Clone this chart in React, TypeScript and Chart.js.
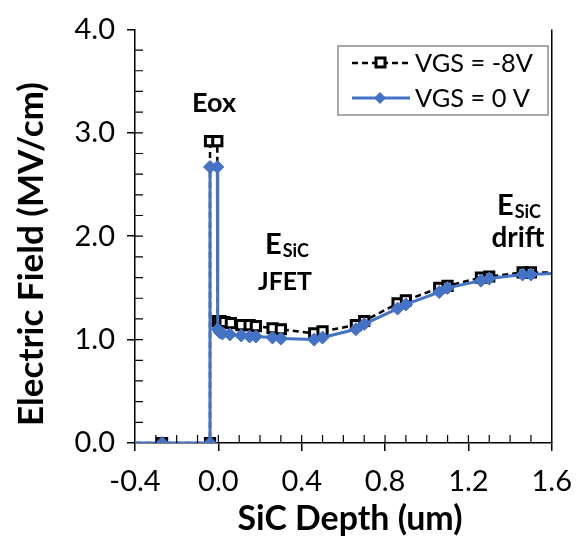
import React, { useEffect, useRef } from 'react';
import { Chart, registerables } from 'chart.js';

Chart.register(...registerables);

// ---- Data ----
const seriesNames = ['VGS = -8V', 'VGS = 0 V'];

const vgsNeg8X = [-0.4, -0.27, -0.04, -0.04, -0.005, -0.003, 0.01, 0.03, 0.06, 0.11, 0.15, 0.18, 0.26, 0.3, 0.46, 0.5, 0.66, 0.7, 0.86, 0.9, 1.06, 1.1, 1.26, 1.3, 1.46, 1.5, 1.65];
const vgsNeg8Y = [0, 0, 0, 2.92, 2.92, 1.18, 1.18, 1.17, 1.16, 1.14, 1.14, 1.13, 1.11, 1.1, 1.06, 1.08, 1.14, 1.18, 1.35, 1.38, 1.5, 1.52, 1.6, 1.61, 1.65, 1.65, 1.65];

const vgs0X = [-0.4, -0.27, -0.04, -0.04, -0.005, -0.003, 0.008, 0.02, 0.055, 0.11, 0.15, 0.18, 0.26, 0.3, 0.46, 0.5, 0.66, 0.7, 0.86, 0.9, 1.06, 1.1, 1.26, 1.3, 1.46, 1.5, 1.65];
const vgs0Y = [0, 0, 0, 2.67, 2.67, 1.1, 1.07, 1.06, 1.05, 1.04, 1.03, 1.03, 1.02, 1.01, 1.0, 1.02, 1.1, 1.15, 1.3, 1.34, 1.46, 1.5, 1.57, 1.59, 1.63, 1.63, 1.645];

const xMin = -0.4, xMax = 1.6, xStep = 0.4, xMinor = 0.1;
const yMin = 0, yMax = 4, yStep = 1, yMinor = 0.2;

const xTitle = 'SiC Depth (um)';
const yTitle = 'Electric Field (MV/cm)';
const eoxLabel = 'Eox';
const jfetLabel = 'JFET';
const driftLabel = 'drift';
const eMain = 'E';
const eSub = 'SiC';

const FONT = 'Lato, "Open Sans", sans-serif';
const BLUE = '#4472C4';

function fitFont(ctx: CanvasRenderingContext2D, text: string, weight: string, targetW: number) {
  ctx.font = `${weight} 100px ${FONT}`;
  const w = ctx.measureText(text).width;
  return (100 * targetW) / w;
}

const decorPlugin = {
  id: 'decor',
  afterDraw(chart: any) {
    const ctx: CanvasRenderingContext2D = chart.ctx;
    const { left, right, top, bottom } = chart.chartArea;
    const xs = chart.scales.x;
    const ys = chart.scales.y;
    ctx.save();
    // right frame line
    ctx.strokeStyle = '#000';
    ctx.lineWidth = 1.5;
    ctx.beginPath();
    ctx.moveTo(right, top);
    ctx.lineTo(right, bottom);
    ctx.stroke();
    // minor ticks (inward)
    ctx.lineWidth = 1.2;
    ctx.beginPath();
    const nx = Math.round((xMax - xMin) / xMinor);
    for (let i = 1; i < nx; i++) {
      const v = xMin + i * xMinor;
      const px = xs.getPixelForValue(v);
      ctx.moveTo(px, bottom);
      ctx.lineTo(px, bottom - 8);
    }
    const ny = Math.round((yMax - yMin) / yMinor);
    for (let i = 1; i < ny; i++) {
      const v = yMin + i * yMinor;
      const py = ys.getPixelForValue(v);
      ctx.moveTo(left, py);
      ctx.lineTo(left + 8, py);
    }
    ctx.stroke();

    ctx.fillStyle = '#000';
    ctx.textBaseline = 'middle';
    // axis titles
    let s = fitFont(ctx, xTitle, 'bold', 225);
    ctx.font = `bold ${s}px ${FONT}`;
    ctx.textAlign = 'center';
    ctx.fillText(xTitle, 350, 519);
    s = fitFont(ctx, yTitle, 'bold', 344);
    ctx.save();
    ctx.translate(32, 254);
    ctx.rotate(-Math.PI / 2);
    ctx.font = `bold ${s}px ${FONT}`;
    ctx.fillText(yTitle, 0, 0);
    ctx.restore();

    // annotations
    s = fitFont(ctx, eoxLabel, 'bold', 44);
    ctx.font = `bold ${s}px ${FONT}`;
    ctx.textAlign = 'center';
    ctx.fillText(eoxLabel, 214, 103);

    const drawE = (x: number, y: number) => {
      ctx.textAlign = 'left';
      ctx.font = `bold 29px ${FONT}`;
      ctx.fillText(eMain, x, y);
      const w = ctx.measureText(eMain).width;
      ctx.font = `bold 18px ${FONT}`;
      ctx.fillText(eSub, x + w + 1, y + 6);
    };
    drawE(265, 245);
    s = fitFont(ctx, jfetLabel, 'bold', 54);
    ctx.font = `bold ${s}px ${FONT}`;
    ctx.textAlign = 'center';
    ctx.fillText(jfetLabel, 285, 282);
    drawE(497, 206);
    s = fitFont(ctx, driftLabel, 'bold', 53);
    ctx.font = `bold ${s}px ${FONT}`;
    ctx.textAlign = 'center';
    ctx.fillText(driftLabel, 518, 238);

    // legend
    ctx.fillStyle = '#fff';
    ctx.fillRect(338, 46, 210, 69);
    ctx.strokeStyle = '#8c8c8c';
    ctx.lineWidth = 1.5;
    ctx.strokeRect(338, 46, 210, 69);
    // entry 1
    ctx.strokeStyle = '#000';
    ctx.lineWidth = 2.5;
    ctx.setLineDash([6, 4]);
    ctx.beginPath();
    ctx.moveTo(352, 63);
    ctx.lineTo(410, 63);
    ctx.stroke();
    ctx.setLineDash([]);
    ctx.fillStyle = '#fff';
    ctx.fillRect(376, 58, 9, 9);
    ctx.lineWidth = 3;
    ctx.strokeRect(376, 58, 9, 9);
    // entry 2
    ctx.strokeStyle = BLUE;
    ctx.lineWidth = 3;
    ctx.beginPath();
    ctx.moveTo(352, 98);
    ctx.lineTo(410, 98);
    ctx.stroke();
    ctx.fillStyle = BLUE;
    ctx.beginPath();
    ctx.moveTo(380, 92);
    ctx.lineTo(386, 98);
    ctx.lineTo(380, 104);
    ctx.lineTo(374, 98);
    ctx.closePath();
    ctx.fill();
    ctx.fillStyle = '#000';
    s = fitFont(ctx, seriesNames[0], 'normal', 118);
    ctx.font = `normal ${s}px ${FONT}`;
    ctx.textAlign = 'left';
    ctx.fillText(seriesNames[0], 415, 64);
    ctx.fillText(seriesNames[1], 415, 99);
    ctx.restore();
  },
};

export default function App() {
  const ref = useRef<HTMLCanvasElement | null>(null);
  useEffect(() => {
    document.body.style.margin = '0';
    const canvas = ref.current!;
    const n1 = vgsNeg8X.length;
    const n2 = vgs0X.length;
    const chart = new Chart(canvas, {
      type: 'line',
      data: {
        datasets: [
          {
            label: seriesNames[0],
            data: vgsNeg8X.map((x, i) => ({ x, y: vgsNeg8Y[i] })),
            borderColor: '#000',
            borderWidth: 2.5,
            borderDash: [6, 4],
            pointStyle: 'rect',
            pointRadius: (c: any) => (c.dataIndex === 0 || c.dataIndex === n1 - 1 ? 0 : 6.5),
            pointBackgroundColor: '#fff',
            pointBorderColor: '#000',
            pointBorderWidth: 3,
            order: 2,
            tension: 0,
          } as any,
          {
            label: seriesNames[1],
            data: vgs0X.map((x, i) => ({ x, y: vgs0Y[i] })),
            borderColor: BLUE,
            borderWidth: 3,
            pointStyle: 'rectRot',
            pointRadius: (c: any) => (c.dataIndex === 0 || c.dataIndex === n2 - 1 ? 0 : 6.5),
            pointBackgroundColor: BLUE,
            pointBorderColor: BLUE,
            pointBorderWidth: 1,
            order: 1,
            tension: 0,
          } as any,
        ],
      },
      options: {
        animation: false,
        responsive: false,
        devicePixelRatio: 1,
        layout: { padding: { left: 0, top: 25, right: 25, bottom: 0 } },
        plugins: { legend: { display: false }, tooltip: { enabled: false } },
        scales: {
          x: {
            type: 'linear',
            min: xMin,
            max: xMax,
            afterFit: (sc: any) => { sc.height = 99; },
            ticks: {
              stepSize: xStep,
              callback: (v: any) => Number(v).toFixed(1),
              font: { family: FONT, size: 29 },
              color: '#000',
              padding: 13,
              maxRotation: 0,
            },
            grid: { drawOnChartArea: false, drawTicks: true, tickLength: 8, color: '#000', lineWidth: 1.5 },
            border: { display: true, color: '#000', width: 1.5 },
          },
          y: {
            type: 'linear',
            min: yMin,
            max: yMax,
            afterFit: (sc: any) => { sc.width = 135; },
            ticks: {
              stepSize: yStep,
              callback: (v: any) => Number(v).toFixed(1),
              font: { family: FONT, size: 29 },
              color: '#000',
              padding: 12,
            },
            grid: { drawOnChartArea: false, drawTicks: true, tickLength: 8, color: '#000', lineWidth: 1.5 },
            border: { display: true, color: '#000', width: 1.5 },
          },
        },
      },
      plugins: [decorPlugin],
    });
    return () => chart.destroy();
  }, []);
  return <canvas ref={ref} width={585} height={542} style={{ display: 'block' }} />;
}
